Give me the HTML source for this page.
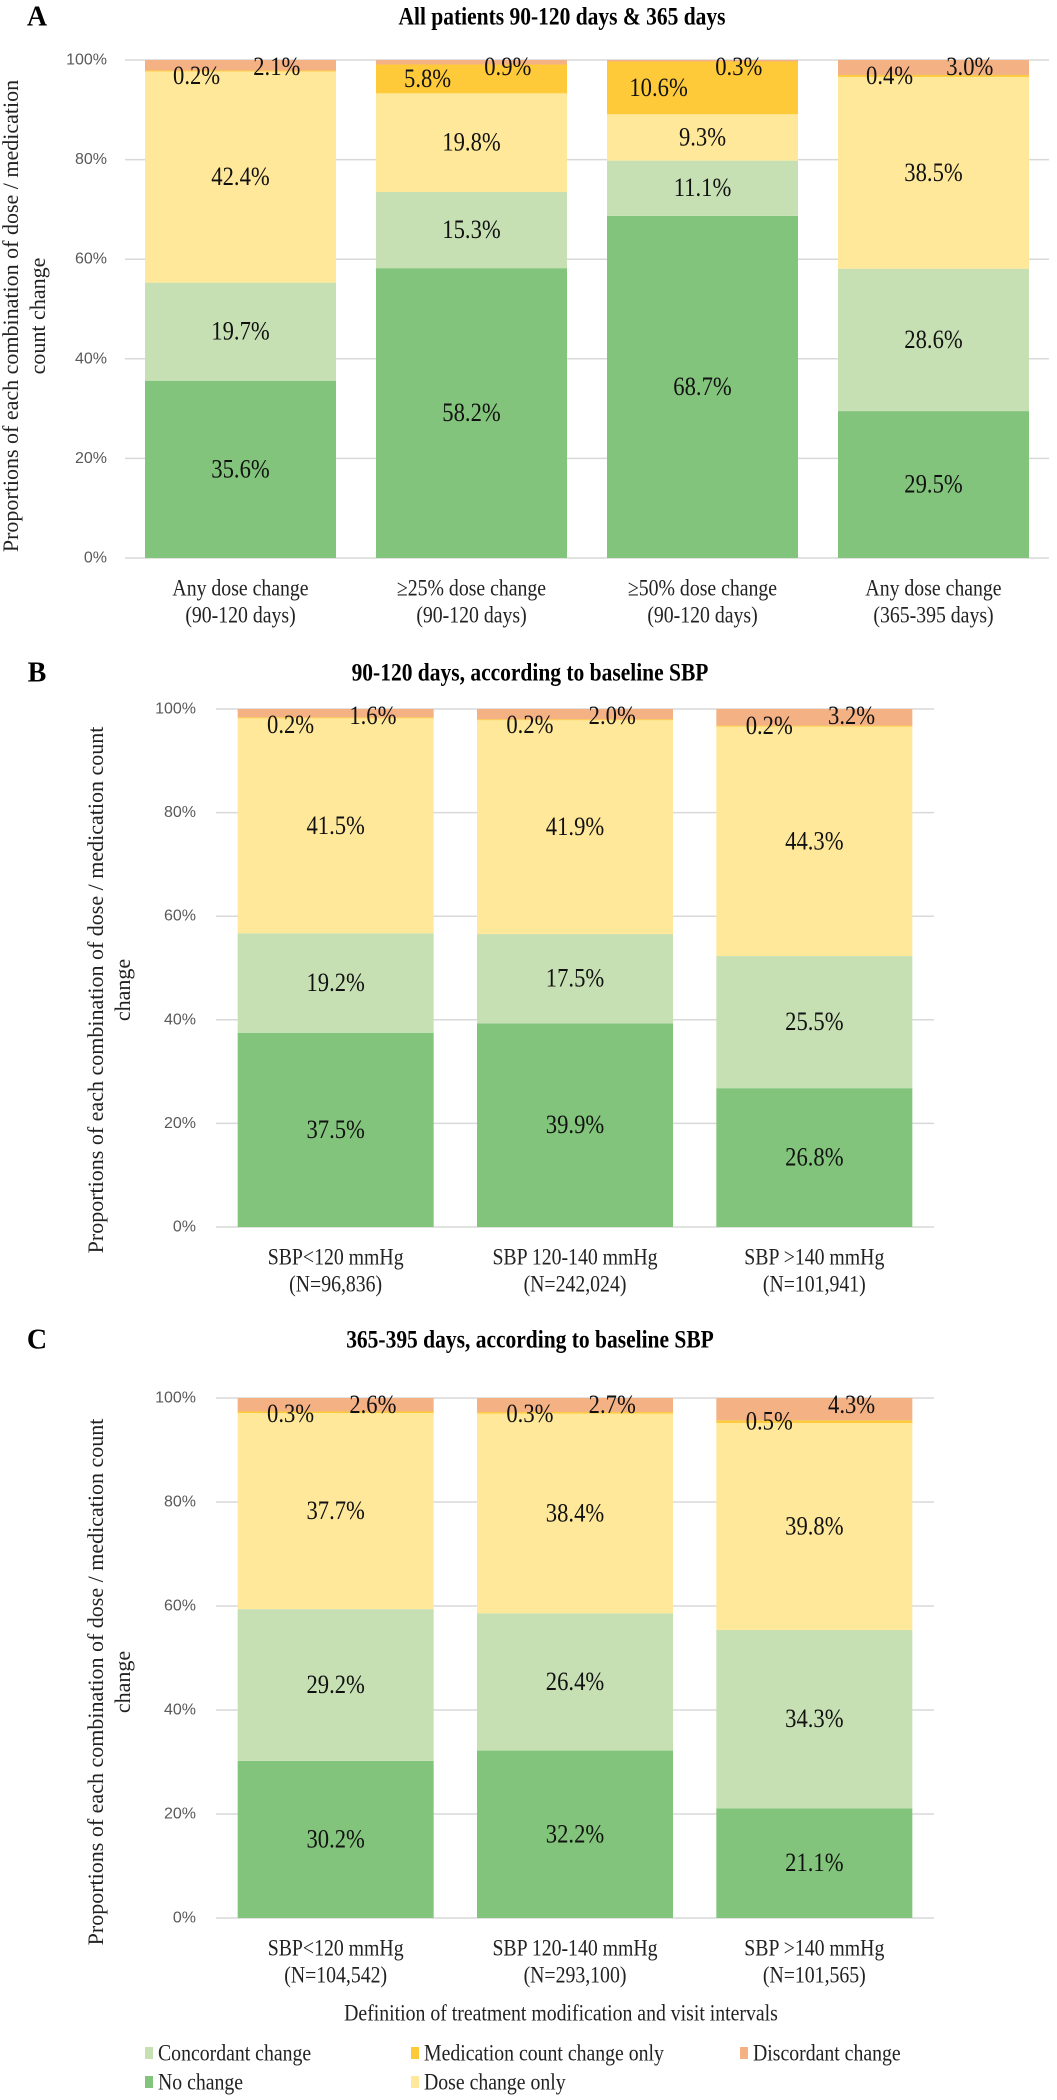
<!DOCTYPE html>
<html><head><meta charset="utf-8">
<style>
html,body{margin:0;padding:0;background:#fff;}
svg{display:block;}
text{font-family:"Liberation Serif","Times New Roman",serif;}
.tick{font-family:"Liberation Sans",Arial,sans-serif;font-size:16px;fill:#595959;}
</style></head>
<body>
<svg id="chart" width="1057" height="2100" viewBox="0 0 1057 2100" xmlns="http://www.w3.org/2000/svg"></svg>
<script>
// ---- data ----
const seriesNames = ["No change","Concordant change","Dose change only","Medication count change only","Discordant change"];
const seriesColors = ["#82c47b","#c6e0b4","#ffe89a","#ffca3a","#f4b183"];
const yTicks = [0,20,40,60,80,100];
const yTickLabels = ["0%","20%","40%","60%","80%","100%"];

const catsA = [["Any dose change","(90-120 days)"],["\u226525% dose change","(90-120 days)"],["\u226550% dose change","(90-120 days)"],["Any dose change","(365-395 days)"]];
const noChangeA   = [35.6,58.2,68.7,29.5];
const concordantA = [19.7,15.3,11.1,28.6];
const doseOnlyA   = [42.4,19.8,9.3,38.5];
const medOnlyA    = [0.2,5.8,10.6,0.4];
const discordantA = [2.1,0.9,0.3,3.0];

const catsB = [["SBP<120 mmHg","(N=96,836)"],["SBP 120-140 mmHg","(N=242,024)"],["SBP >140 mmHg","(N=101,941)"]];
const noChangeB   = [37.5,39.9,26.8];
const concordantB = [19.2,17.5,25.5];
const doseOnlyB   = [41.5,41.9,44.3];
const medOnlyB    = [0.2,0.2,0.2];
const discordantB = [1.6,2.0,3.2];

const catsC = [["SBP<120 mmHg","(N=104,542)"],["SBP 120-140 mmHg","(N=293,100)"],["SBP >140 mmHg","(N=101,565)"]];
const noChangeC   = [30.2,32.2,21.1];
const concordantC = [29.2,26.4,34.3];
const doseOnlyC   = [37.7,38.4,39.8];
const medOnlyC    = [0.3,0.3,0.5];
const discordantC = [2.6,2.7,4.3];

const NS = "http://www.w3.org/2000/svg";
const svg = document.getElementById("chart");
function mk(tag, attrs, parent, txt){
  const e = document.createElementNS(NS, tag);
  for (const k in attrs) e.setAttribute(k, attrs[k]);
  if (txt !== undefined) e.textContent = txt;
  (parent||svg).appendChild(e);
  return e;
}
function stxt(parent, x, y, str, size, opts){
  opts = opts||{};
  const sx = opts.sx||0.87;
  const g = mk("g",{transform:`translate(${x},${y}) scale(${sx},1)`},parent);
  const t = mk("text",{x:0,y:0,"text-anchor":opts.anchor||"middle","dominant-baseline":"central","font-size":size,"font-weight":opts.bold?"bold":"normal",fill:opts.fill||"#111"},g,str);
  return t;
}

function panel(cfg){
  const g = mk("g",{});
  
  
  const yS = v => cfg.bottom - (v/100)*(cfg.bottom-cfg.top);
  const n = cfg.cats.length;
  const band = (cfg.x1-cfg.x0)/n;
  const xC = i => cfg.x0 + band*(i+0.5);

  const L = mk("text",{x:37,y:cfg.titleY,"text-anchor":"middle","dominant-baseline":"central","font-size":28,"font-weight":"bold",fill:"#000"},g,cfg.letter);
  
  
  const T = stxt(g, cfg.titleCx, cfg.titleY, cfg.title, 25, {bold:true,sx:0.86,fill:"#000"});
  
  

  yTicks.forEach((v,i)=>{
    const ln = mk("line",{x1:cfg.x0,x2:cfg.x1,y1:yS(v),y2:yS(v),stroke:"#d9d9d9","stroke-width":1.5},g);
    
    
    const t = mk("text",{x:cfg.tickX,y:yS(v),"text-anchor":"end","dominant-baseline":"central",class:"tick"},g,yTickLabels[i]);
    
    
  });

  const yt = mk("text",{transform:`translate(${cfg.yTitleX},${cfg.yTitleY}) rotate(-90)`,"text-anchor":"middle","font-size":22,fill:"#222"},g);
  
  
  mk("tspan",{x:0,dy:0},yt,cfg.yTitle[0]);
  mk("tspan",{x:0,dy:27},yt,cfg.yTitle[1]);

  const series = cfg.series;
  const barLayer = mk("g",{},g);
  const labelLayer = mk("g",{},g);
  for (let i=0;i<n;i++){
    const vals = series.map(s=>s[i]);
    const tot = vals.reduce((a,b)=>a+b,0);
    const xl = xC(i)-cfg.bw/2;
    let cum = 0;
    const top = yS(100);
    vals.forEach((v,k)=>{
      const a = cum/tot*100, b=(cum+v)/tot*100;
      cum += v;
      const r = mk("rect",{x:xl,y:yS(b),width:cfg.bw,height:Math.max(0,yS(a)-yS(b)),fill:seriesColors[k]},barLayer);
      
      
      let lx = xC(i), ly = (yS(a)+yS(b))/2;
      if (k===3){ lx = xl + cfg.bw*0.27; ly = Math.max(ly, top+16); }
      if (k===4){ lx = xl + cfg.bw*0.69; ly = top+7; }
      const lt = stxt(labelLayer, lx, ly, v.toFixed(1)+"%", 26);
      
      
    });
    const c1 = stxt(g, xC(i), cfg.bottom+30, cfg.cats[i][0], 23, {sx:0.86,fill:"#222"});
    
    
    const c2 = stxt(g, xC(i), cfg.bottom+57, cfg.cats[i][1], 23, {sx:0.86,fill:"#222"});
    
    
  }
}

panel({name:"panel-a",letter:"A",title:"All patients 90-120 days & 365 days",titleY:17,titleCx:562,
  top:60,bottom:558,x0:125,x1:1049,bw:191,tickX:107,yTitleX:18,yTitleY:316,
  yTitle:["Proportions of each combination of dose / medication","count change"],
  cats:catsA,series:[noChangeA,concordantA,doseOnlyA,medOnlyA,discordantA]});
panel({name:"panel-b",letter:"B",title:"90-120 days, according to baseline SBP",titleY:673,titleCx:530,
  top:709,bottom:1227,x0:216,x1:934,bw:196,tickX:196,yTitleX:103,yTitleY:990,
  yTitle:["Proportions of each combination of dose / medication count","change"],
  cats:catsB,series:[noChangeB,concordantB,doseOnlyB,medOnlyB,discordantB]});
panel({name:"panel-c",letter:"C",title:"365-395 days, according to baseline SBP",titleY:1340,titleCx:530,
  top:1398,bottom:1918,x0:216,x1:934,bw:196,tickX:196,yTitleX:103,yTitleY:1682,
  yTitle:["Proportions of each combination of dose / medication count","change"],
  cats:catsC,series:[noChangeC,concordantC,doseOnlyC,medOnlyC,discordantC]});

const xt = stxt(svg, 561, 2013, "Definition of  treatment modification and visit intervals", 23, {sx:0.86,fill:"#222"});



const legendOrder = [1,3,4,0,2];
const legendX = [145,411,740,145,411];
const legendY = [2053,2053,2053,2082,2082];
legendOrder.forEach((k,j)=>{
  const lg = mk("g",{});
  
  
  mk("rect",{x:legendX[j],y:legendY[j]-6,width:8,height:12,fill:seriesColors[k]},lg);
  stxt(lg, legendX[j]+13, legendY[j], seriesNames[k], 23, {anchor:"start",sx:0.86,fill:"#222"});
});
</script>
</body></html>
